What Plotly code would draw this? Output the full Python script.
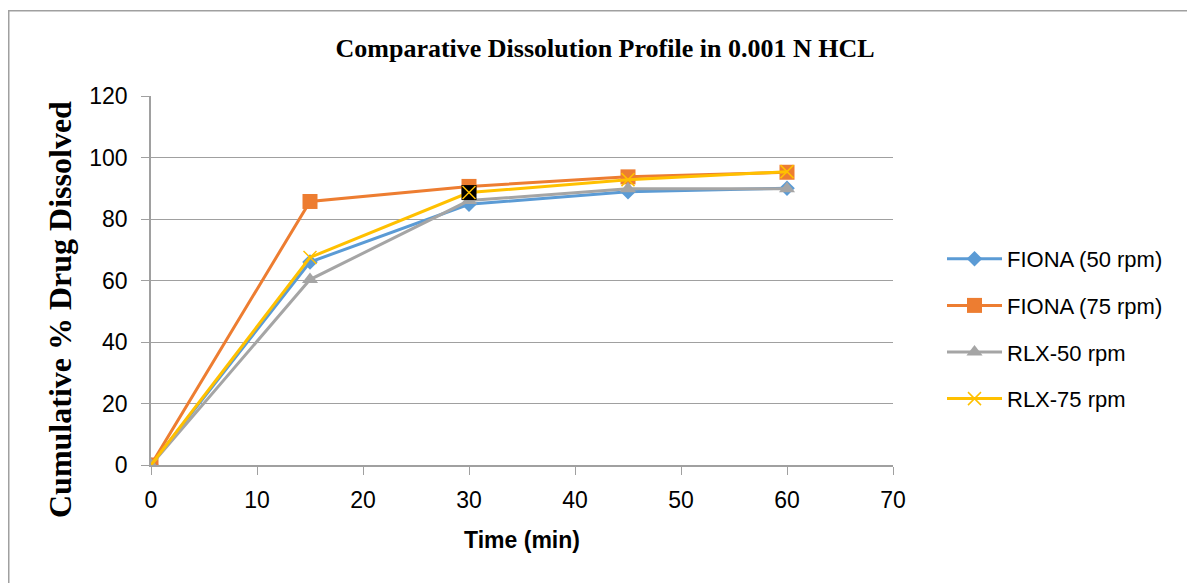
import plotly.graph_objects as go

# Sampling times (min)
time_min = [0, 15, 30, 45, 60]

# Cumulative % drug dissolved for each product / paddle speed
fiona_50 = [0, 66.0, 84.8, 88.9, 90.0]
fiona_75 = [0, 85.7, 90.6, 93.7, 95.2]
rlx_50 = [0, 60.3, 86.0, 89.8, 89.8]
rlx_75 = [0, 67.5, 88.6, 92.8, 95.4]

series_names = ["FIONA (50 rpm)", "FIONA (75 rpm)", "RLX-50 rpm", "RLX-75 rpm"]
y_ticks = [0, 20, 40, 60, 80, 100, 120]
x_ticks = [0, 10, 20, 30, 40, 50, 60, 70]

fig = go.Figure()

styles = [
    (fiona_50, "#5B9BD5", dict(symbol="diamond", size=12)),
    (fiona_75, "#ED7D31", dict(symbol="square", size=15)),
    (rlx_50, "#A5A5A5", dict(symbol="triangle-up", size=14)),
    (rlx_75, "#FFC000", dict(symbol="x-thin", size=13, line=dict(width=1.5, color="#FFC000"))),
]

for i, (name, (vals, color, marker)) in enumerate(zip(series_names, styles)):
    m = dict(color=color, **marker)
    if "line" not in m:
        m["line"] = dict(width=0)
    fig.add_trace(go.Scatter(
        x=time_min, y=vals, name=name, mode="lines+markers", legendgroup=f"g{i}",
        line=dict(color=color, width=3), marker=m,
    ))

# Highlighted RLX-75 point at 30 min (black filled marker)
hi = time_min.index(30)
fig.add_trace(go.Scatter(
    x=[time_min[hi]], y=[rlx_75[hi]], mode="markers", showlegend=False,
    marker=dict(symbol="square", size=15, color="black", line=dict(width=0)),
))
fig.add_trace(go.Scatter(
    x=[time_min[hi]], y=[rlx_75[hi]], mode="markers", showlegend=False,
    marker=dict(symbol="x-thin", size=13, color="#FFC000", line=dict(width=1.5, color="#FFC000")),
))

L, R, T, B = 151, 294, 96, 118
W, H = 1187, 583
pw, ph = W - L - R, H - T - B

def px(xp):
    return (xp - L) / pw

def py(yp):
    return (H - B - yp) / ph

fig.update_layout(
    width=W, height=H,
    margin=dict(l=L, r=R, t=T, b=B),
    paper_bgcolor="white", plot_bgcolor="white",
    title=dict(
        text="<b>Comparative Dissolution Profile in 0.001 N HCL</b>",
        x=605 / W, xanchor="center", y=1 - 48 / H, yanchor="middle",
        font=dict(family="Liberation Serif", size=26, color="black"),
    ),
    legend=dict(
        x=px(942), y=py(238), xanchor="left", yanchor="top",
        font=dict(family="Liberation Sans", size=22, color="black"),
        tracegroupgap=15, itemwidth=55, bgcolor="rgba(0,0,0,0)",
    ),
    showlegend=True,
)

fig.update_xaxes(
    range=[0, 70], tickvals=x_ticks, showgrid=False, zeroline=False,
    showline=True, linecolor="#A0A0A0", linewidth=1.5,
    ticks="outside", ticklen=8, tickcolor="#A0A0A0", tickwidth=1,
    ticklabelstandoff=6,
    tickfont=dict(family="Liberation Sans", size=23, color="black"),
    title=dict(text="<b>Time (min)</b>", standoff=20,
               font=dict(family="Liberation Sans", size=23, color="black")),
)
fig.update_yaxes(
    range=[0, 120], tickvals=y_ticks, showgrid=True, gridcolor="#A0A0A0", gridwidth=1.2,
    zeroline=False, showline=True, linecolor="#A0A0A0", linewidth=1.5,
    ticks="outside", ticklen=8, tickcolor="#A0A0A0", tickwidth=1,
    ticklabelstandoff=9,
    tickfont=dict(family="Liberation Sans", size=23, color="black"),
)

# Vertical axis title
fig.add_annotation(
    text="<b>Cumulative % Drug Dissolved</b>", textangle=-90, showarrow=False,
    xref="paper", yref="paper", x=px(60), y=py(310), xanchor="center", yanchor="middle",
    font=dict(family="Liberation Serif", size=32, color="black"),
)

# Outer chart frame: a bordered empty box anchored at the top-left corner,
# its right and bottom edges run past the page
fig.add_annotation(
    text="", showarrow=False, xref="paper", yref="paper",
    x=px(8), y=py(10), xanchor="left", yanchor="top",
    width=1300, height=700, bordercolor="#A0A0A0", borderwidth=1.5, borderpad=0,
)

fig.write_html("out.html")
